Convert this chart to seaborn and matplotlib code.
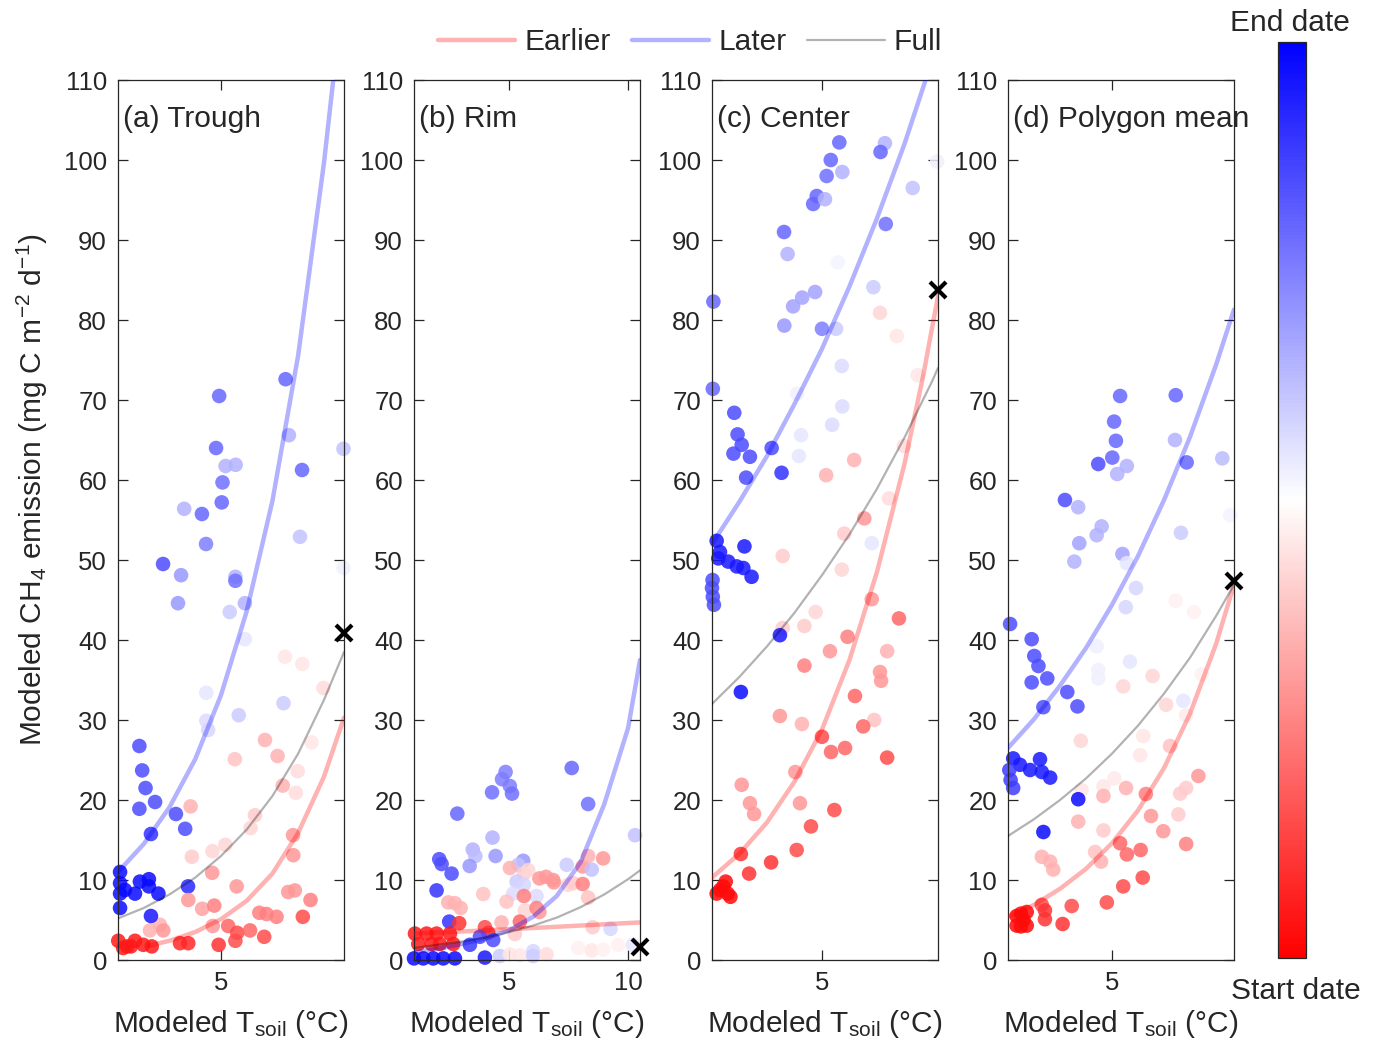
import numpy as np
import pandas as pd
import matplotlib
matplotlib.use("Agg")
import matplotlib.pyplot as plt
import matplotlib.lines as mlines
from matplotlib.colors import LinearSegmentedColormap, Normalize
import seaborn as sns

sns.set_theme(style="ticks")
plt.rcParams['font.family'] = ['Liberation Sans', 'DejaVu Sans']
plt.rcParams['mathtext.default'] = 'regular'

################################################################################
### [0] Data (temperature, CH4 flux, date fraction 0=start)
################################################################################
titles = ["(a) Trough", "(b) Rim", "(c) Center", "(d) Polygon mean"]

trough_t = [7.51, 4.93, 7.64, 9.76, 4.81, 5.18, 5.57, 8.15, 5.06, 5.03, 3.57, 4.26, 8.07, 4.42,
            2.75, 3.45, 9.76, 5.56, 5.56, 3.33, 5.93, 5.34, 5.93, 7.49, 8.16, 8.98, 4.43, 4.43,
            4.5, 5.69, 7.43, 8.52, 6.71, 5.54, 7.2, 7.98, 7.91, 7.4, 1.83, 1.94, 2.07, 1.83,
            2.44, 2.28, 3.25, 3.61, 3.82, 3.87, 4.67, 5.17, 6.32, 6.15, 7.8, 7.81, 4.66, 5.61,
            3.72, 3.73, 4.27, 4.74, 7.61, 7.87, 8.48, 8.18, 4.68, 5.28, 5.63, 5.56, 6.13, 6.49,
            6.77, 7.16, 6.68, 4.91, 2.24, 2.63, 2.76, 1.01, 1.2, 1.35, 1.5, 1.66, 1.98, 2.31,
            3.41, 3.73, 1.08, 1.08, 1.08, 1.08, 1.27, 1.66, 1.85, 2.2, 2.2, 2.57, 2.28]
trough_ch4 = [72.6, 70.5, 65.6, 63.9, 64.0, 61.75, 61.9, 61.25, 59.7, 57.2, 56.4, 55.75, 52.9, 52.0,
              49.5, 48.1, 49.0, 47.9, 47.4, 44.6, 44.6, 43.5, 40.1, 37.9, 37.0, 34.0, 33.4, 29.9,
              28.75, 30.6, 32.1, 27.2, 27.5, 25.1, 25.5, 23.6, 20.9, 21.8, 26.75, 23.7, 21.5, 18.9,
              19.75, 15.75, 18.25, 16.4, 19.2, 12.9, 13.6, 14.4, 18.1, 16.5, 15.6, 13.1, 10.9, 9.2,
              9.2, 7.5, 6.4, 6.8, 8.5, 8.7, 7.5, 5.4, 4.25, 4.25, 3.4, 2.4, 3.7, 5.9,
              5.75, 5.4, 2.9, 1.9, 3.7, 4.4, 3.7, 2.4, 1.5, 1.7, 1.7, 2.4, 1.9, 1.7,
              2.1, 2.1, 11.0, 9.6, 8.3, 6.5, 8.75, 8.3, 9.8, 10.1, 9.2, 8.3, 5.5]
trough_day = [.8, .8, .65, .62, .8, .65, .65, .8, .78, .8, .65, .8, .62, .75,
              .85, .7, .53, .65, .78, .7, .65, .6, .55, .45, .45, .43, .55, .57,
              .58, .6, .6, .45, .35, .38, .35, .43, .43, .35, .85, .85, .85, .85,
              .85, .9, .85, .85, .35, .4, .42, .42, .4, .42, .3, .3, .3, .3,
              .92, .3, .32, .25, .3, .3, .25, .15, .3, .2, .15, .15, .2, .25,
              .25, .25, .15, .1, .35, .35, .3, .05, .05, .05, .05, .05, .05, .05,
              .08, .08, .98, .98, .98, .98, .98, .98, .98, .98, .98, .98, .95]

rim_t = [7.63, 4.85, 4.7, 5.03, 5.12, 4.28, 8.32, 2.82, 10.29, 4.3, 3.47, 3.58, 4.43, 3.34,
         2.06, 2.16, 2.58, 1.95, 2.48, 5.59, 5.38, 5.03, 5.62, 5.8, 5.31, 5.62, 5.17, 6.15,
         5.62, 6.27, 6.55, 6.85, 6.88, 7.42, 7.48, 7.69, 8.09, 8.09, 8.32, 8.47, 8.95, 8.32,
         8.51, 9.26, 3.91, 4.89, 5.66, 6.15, 6.27, 5.45, 4.68, 5.24, 2.44, 2.72, 2.96, 2.9,
         1.04, 1.53, 1.95, 2.51, 1.18, 1.74, 2.09, 2.65, 3.98, 4.12, 3.77, 3.35, 4.33, 1.0,
         1.39, 1.81, 2.23, 2.72, 3.98, 4.61, 5.03, 5.45, 6.01, 6.01, 6.57, 7.9, 8.47, 8.95,
         9.58, 10.2]
rim_ch4 = [24.0, 23.5, 22.6, 21.75, 20.8, 20.96, 19.5, 18.3, 15.6, 15.3, 13.8, 13.0, 13.0, 11.75,
           12.6, 12.0, 10.8, 8.7, 4.8, 12.4, 11.9, 11.5, 10.8, 11.25, 9.8, 9.4, 8.3, 8.0,
           8.0, 10.2, 10.4, 10.0, 9.7, 11.9, 9.4, 9.6, 9.5, 11.7, 13.0, 11.3, 12.7, 7.8,
           4.1, 3.9, 8.25, 7.3, 6.2, 6.5, 6.0, 4.8, 4.7, 3.25, 7.2, 7.1, 6.5, 4.6,
           3.3, 3.3, 3.3, 3.3, 2.0, 2.0, 2.0, 2.0, 4.1, 3.4, 2.9, 1.9, 2.5, 0.2,
           0.2, 0.2, 0.2, 0.2, 0.3, 0.5, 0.7, 0.6, 1.1, 0.5, 0.7, 1.5, 1.2, 1.3,
           1.9, 1.9]
rim_day = [.8, .75, .75, .75, .78, .78, .78, .8, .62, .65, .65, .63, .7, .7,
           .85, .85, .85, .9, .9, .7, .62, .35, .4, .42, .6, .58, .57, .57,
           .25, .3, .3, .3, .3, .6, .42, .4, .25, .3, .35, .62, .3, .38,
           .4, .58, .38, .38, .42, .25, .3, .2, .35, .4, .35, .35, .35, .1,
           .05, .05, .05, .05, .05, .05, .05, .05, .15, .1, .85, .88, .85, .98,
           .98, .98, .98, .98, .95, .6, .45, .45, .58, .6, .43, .47, .45, .47,
           .47, .55]

center_t = [5.63, 7.29, 7.13, 5.32, 9.19, 5.17, 5.74, 8.3, 4.81, 4.68, 5.11, 7.32, 3.62, 3.75,
            5.57, 6.87, 4.75, 4.28, 3.95, 1.05, 7.11, 7.72, 3.63, 5.0, 5.51, 5.72, 8.48, 1.03,
            4.1, 5.74, 5.37, 4.24, 4.16, 7.98, 1.81, 1.93, 2.08, 1.78, 2.38, 2.24, 3.17, 3.53,
            6.17, 5.15, 7.44, 6.54, 5.81, 6.81, 1.17, 2.18, 1.29, 1.23, 1.59, 1.9, 2.14, 2.44,
            1.02, 1.0, 1.03, 1.07, 3.57, 5.72, 6.81, 7.8, 4.77, 4.36, 3.57, 3.47, 5.93, 5.29,
            7.37, 4.36, 7.11, 7.15, 2.05, 6.2, 3.47, 4.27, 6.9, 6.5, 5.0, 5.33, 5.84, 7.37,
            4.03, 2.08, 2.38, 2.53, 4.2, 5.45, 4.6, 4.08, 2.05, 3.15, 2.35, 1.17, 1.29, 1.41,
            1.5, 1.57, 1.67]
center_ch4 = [102.2, 102.1, 101.0, 100.0, 99.8, 98.0, 98.5, 96.5, 95.5, 94.5, 95.1, 92.0, 91.0, 88.25,
              87.2, 84.1, 83.5, 82.8, 81.7, 82.3, 80.9, 78.0, 79.3, 78.9, 78.9, 74.25, 73.1, 71.4,
              70.8, 69.2, 66.9, 65.6, 63.0, 64.25, 68.4, 65.7, 64.4, 63.3, 62.9, 60.3, 64.0, 60.9,
              62.5, 60.6, 57.7, 55.2, 53.3, 52.1, 52.4, 51.7, 51.0, 50.2, 49.8, 49.2, 49.0, 47.9,
              47.5, 46.5, 45.4, 44.4, 50.5, 48.8, 45.1, 42.7, 43.5, 41.75, 41.5, 40.6, 40.4, 38.6,
              38.6, 36.8, 36.0, 34.9, 33.5, 33.0, 30.5, 29.5, 30.0, 29.2, 27.9, 26.0, 26.5, 25.3,
              23.5, 21.9, 19.6, 18.25, 19.6, 18.75, 16.7, 13.75, 13.25, 12.2, 10.8, 8.3, 8.75, 9.2,
              9.8, 8.3, 7.9]
center_day = [.8, .65, .8, .8, .53, .78, .65, .62, .8, .8, .65, .78, .8, .65,
              .52, .6, .68, .68, .68, .8, .42, .45, .7, .75, .6, .57, .45, .8,
              .53, .57, .57, .55, .55, .43, .85, .85, .85, .85, .85, .85, .85, .9,
              .35, .35, .43, .3, .4, .55, .95, .95, .95, .95, .95, .95, .95, .95,
              .85, .85, .85, .85, .4, .42, .3, .2, .42, .4, .4, .95, .25, .3,
              .35, .25, .3, .3, .98, .2, .3, .35, .38, .2, .15, .2, .2, .15,
              .3, .3, .3, .3, .3, .15, .15, .15, .1, .1, .1, .02, .02, .02,
              .02, .02, .02]

mean_t = [5.31, 7.45, 5.08, 5.15, 7.42, 5.01, 4.47, 5.57, 5.2, 7.87, 9.24, 3.19, 3.7, 9.54,
          4.6, 4.41, 3.74, 7.65, 3.55, 5.4, 5.57, 5.92, 5.53, 7.45, 8.15, 1.08, 1.91, 2.01,
          2.17, 4.41, 5.69, 9.03, 1.91, 2.51, 3.28, 3.67, 2.36, 4.47, 4.47, 5.43, 6.56, 8.45,
          7.08, 7.74, 7.85, 3.8, 6.2, 6.08, 7.23, 1.2, 2.23, 1.46, 1.85, 2.3, 2.62, 1.05,
          1.1, 1.2, 3.83, 4.67, 5.09, 4.67, 5.54, 6.3, 7.62, 7.85, 8.32, 3.7, 3.7, 4.67,
          6.5, 6.97, 7.55, 7.85, 2.36, 5.31, 5.57, 6.1, 4.35, 4.58, 2.3, 2.62, 2.74, 6.18,
          5.43, 4.8, 3.45, 2.3, 2.42, 2.42, 3.1, 1.33, 1.5, 1.72, 1.33, 1.5, 1.72, 1.6]
mean_ch4 = [70.5, 70.6, 67.3, 64.9, 65.0, 62.8, 62.0, 61.75, 60.75, 62.2, 62.7, 57.5, 56.6, 55.6,
            54.2, 53.1, 52.1, 53.4, 49.8, 50.75, 49.6, 46.5, 44.1, 44.9, 43.5, 42.0, 40.1, 38.0,
            36.75, 39.2, 37.3, 41.0, 34.7, 35.2, 33.5, 31.7, 31.6, 36.25, 35.2, 34.2, 35.5, 35.7,
            31.9, 32.4, 30.6, 27.4, 28.0, 25.6, 26.75, 25.2, 25.1, 24.4, 23.75, 23.5, 22.8, 23.75,
            22.5, 21.5, 21.25, 21.7, 22.7, 20.5, 21.5, 20.75, 20.8, 21.5, 23.0, 20.1, 17.3, 16.2,
            18.0, 16.1, 18.2, 14.5, 16.0, 14.6, 13.2, 13.75, 13.5, 12.3, 12.9, 12.3, 11.3, 10.3,
            9.2, 7.2, 6.75, 6.9, 6.2, 5.1, 4.5, 5.5, 5.8, 6.0, 4.3, 4.2, 4.3, 5.0]
mean_day = [.8, .8, .8, .8, .65, .8, .85, .65, .65, .8, .63, .85, .65, .52,
            .65, .65, .68, .6, .65, .68, .55, .58, .58, .47, .47, .85, .85, .85,
            .85, .53, .55, .5, .85, .85, .85, .85, .85, .53, .53, .42, .42, .47,
            .42, .55, .46, .42, .45, .45, .38, .95, .95, .95, .95, .95, .95, .88,
            .88, .88, .45, .45, .46, .35, .35, .25, .4, .4, .3, .98, .35, .4,
            .3, .3, .4, .25, .98, .2, .2, .2, .38, .35, .35, .35, .35, .15,
            .15, .15, .15, .15, .1, .1, .1, .02, .02, .02, .02, .02, .02, .02]

# fitted curves
trough_late_t = [1, 2, 3, 4, 5, 6, 7, 8, 9, 9.78]
trough_late = [11, 14.5, 19.1, 25.1, 33.1, 43.6, 57.4, 75.6, 99.6, 122]
trough_full_t = [1, 2, 3, 4, 5, 6, 7, 8, 9, 9.78]
trough_full = [5.2, 6.5, 8.2, 10.3, 13, 16.3, 20.5, 25.8, 32.5, 38.5]
trough_early_t = [2.2, 3, 4, 5, 6, 7, 8, 9, 9.78]
trough_early = [1.8, 2.4, 3.5, 5.1, 7.4, 10.8, 15.9, 22.9, 30.3]

rim_late_t = [1, 2, 3, 4, 5, 6, 7, 8, 9, 10, 10.5]
rim_late = [0.95, 1.4, 2.0, 2.7, 3.7, 5.4, 8.0, 12.2, 19.5, 29, 37.5]
rim_full_t = [1, 2, 3, 4, 5, 6, 7, 8, 9, 10, 10.5]
rim_full = [1.5, 1.9, 2.3, 2.8, 3.5, 4.3, 5.3, 6.6, 8.2, 10.1, 11.2]
rim_early_t = [1, 4, 7, 10.5]
rim_early = [3.3, 3.7, 4.15, 4.7]

center_late_t = [1, 2, 3, 4, 5, 6, 7, 8, 9, 9.22]
center_late = [52, 57.3, 63, 69.5, 76.4, 84.2, 92.7, 102, 112.4, 115]
center_full_t = [1, 2, 3, 4, 5, 6, 7, 8, 9, 9.22]
center_full = [32, 35.4, 39.2, 43.4, 48.1, 53.2, 58.9, 65.3, 72.3, 74]
center_early_t = [1, 2, 3, 4, 5, 6, 7, 8, 8.68, 9.22]
center_early = [10.3, 13.3, 17.2, 22.3, 28.8, 37.5, 48.5, 62, 73, 83]

mean_late_t = [1, 2, 3, 4, 5, 6, 7, 8, 9, 9.69]
mean_late = [26.5, 30.1, 34.3, 39, 44.4, 50.5, 57.5, 65.4, 74.4, 81.3]
mean_full_t = [1, 2, 3, 4, 5, 6, 7, 8, 9, 9.69]
mean_full = [15.5, 17.6, 20, 22.7, 25.8, 29.3, 33.3, 37.8, 43, 46.9]
mean_early_t = [1, 2, 3, 4, 5, 6, 7, 8, 9, 9.69]
mean_early = [5.4, 6.9, 8.9, 11.4, 14.6, 18.7, 24, 30.8, 39.5, 46.9]

# end-of-season values (black crosses)
cross_t = [9.78, 10.5, 9.22, 9.69]
cross_ch4 = [40.9, 1.6, 83.75, 47.4]

xlims = [(1.0, 9.78), (1.0, 10.5), (1.0, 9.22), (1.0, 9.69)]
xtick_sets = [[5], [5, 10], [5], [5]]

################################################################################
### [1] Figure
################################################################################
W, H = 1384, 1049
fig = plt.figure(figsize=(W/100, H/100), dpi=100)

cmap = LinearSegmentedColormap.from_list('rwb', [(1, 0, 0), (1, 1, 1), (0, 0, 1)])
norm = Normalize(0, 1)

c_early = (1, 0, 0, 0.3)
c_late = (0, 0, 1, 0.3)
c_full = (0, 0, 0, 0.3)

pts = [(trough_t, trough_ch4, trough_day), (rim_t, rim_ch4, rim_day),
       (center_t, center_ch4, center_day), (mean_t, mean_ch4, mean_day)]
fits = [((trough_early_t, trough_early), (trough_late_t, trough_late), (trough_full_t, trough_full)),
        ((rim_early_t, rim_early), (rim_late_t, rim_late), (rim_full_t, rim_full)),
        ((center_early_t, center_early), (center_late_t, center_late), (center_full_t, center_full)),
        ((mean_early_t, mean_early), (mean_late_t, mean_late), (mean_full_t, mean_full))]

lefts = [118, 414, 712, 1008]
for i in range(4):
    ax = fig.add_axes([lefts[i]/W, 1-960/H, 226/W, 880/H])
    t, ch4, day = pts[i]
    df = pd.DataFrame({'t': t, 'ch4': ch4, 'day': day})
    sns.scatterplot(data=df, x='t', y='ch4', hue='day', palette=cmap, hue_norm=norm,
                    s=110, alpha=0.85, linewidth=0, legend=False, ax=ax, clip_on=False, zorder=2)
    (et, ey), (lt, ly), (ft, fy) = fits[i]
    sns.lineplot(x=et, y=ey, sort=False, estimator=None, color=c_early, lw=3.2, ax=ax, zorder=3)
    sns.lineplot(x=lt, y=ly, sort=False, estimator=None, color=c_late, lw=3.2, ax=ax, zorder=3)
    sns.lineplot(x=ft, y=fy, sort=False, estimator=None, color=c_full, lw=1.6, ax=ax, zorder=3)
    ax.plot(cross_t[i], cross_ch4[i], marker='x', color='black', ms=11, mew=3,
            clip_on=False, zorder=5)

    ax.set_xlim(*xlims[i])
    ax.set_ylim(0, 110)
    ax.set_xticks(xtick_sets[i])
    ax.set_yticks(np.arange(0, 111, 10))
    ax.tick_params(direction='in', top=True, right=True, length=7, width=0.9,
                   labelsize=18.5, colors='#262626', pad=8)
    for sp in ax.spines.values():
        sp.set_visible(True)
        sp.set_color('#262626')
        sp.set_linewidth(0.9)
    ax.set_xlabel(r'Modeled T$_{soil}$ (°C)', fontsize=21.5, labelpad=9)
    if i == 0:
        ax.set_ylabel(r'Modeled CH$_4$ emission (mg C m$^{-2}$ d$^{-1}$)', fontsize=21.5)
        ax.yaxis.set_label_coords(-0.30, 0.535)
    else:
        ax.set_ylabel('')
    ax.text(0.022, 0.972, titles[i], transform=ax.transAxes, ha='left', va='top', fontsize=21.5)

# colorbar
cax = fig.add_axes([1278/W, 1-958/H, 28/W, 916/H])
sm = matplotlib.cm.ScalarMappable(norm=norm, cmap=cmap)
cb = fig.colorbar(sm, cax=cax)
cb.set_ticks([])
cb.outline.set_edgecolor('#262626')
cb.outline.set_linewidth(0.9)
fig.text(1290/W, 1-23/H, 'End date', ha='center', va='center', fontsize=21.5)
fig.text(1296/W, 1-991/H, 'Start date', ha='center', va='center', fontsize=21.5)

handles = [mlines.Line2D([], [], color=c_early, lw=3.2, label='Earlier'),
           mlines.Line2D([], [], color=c_late, lw=3.2, label='Later'),
           mlines.Line2D([], [], color=c_full, lw=1.6, label='Full')]
fig.legend(handles=handles, loc='center', bbox_to_anchor=(690/W, 1-42/H), ncol=3,
           frameon=False, fontsize=21.5, handlelength=2.6, handletextpad=0.3,
           columnspacing=0.7, borderpad=0)

fig.savefig('out.png', dpi=100)
